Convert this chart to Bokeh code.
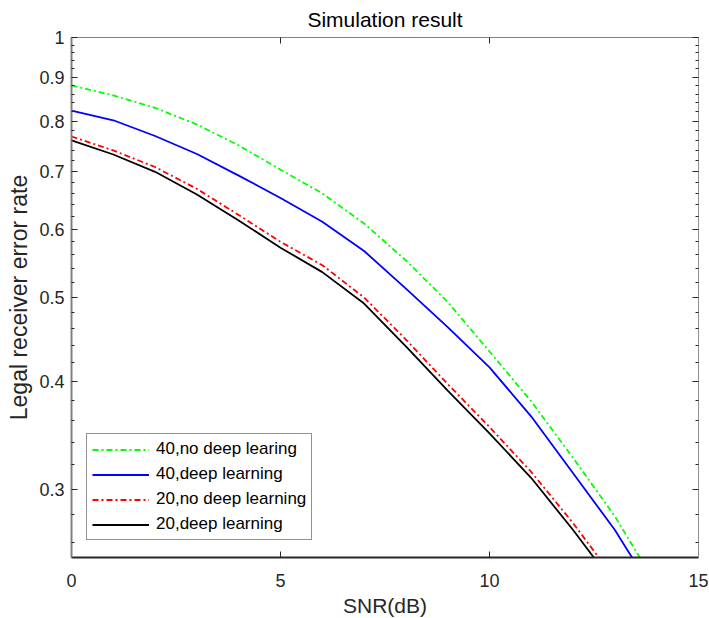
from bokeh.plotting import figure
from bokeh.models import (FixedTicker, LinearAxis, LogAxis, Legend, LegendItem,
                          Range1d, CustomLabelingPolicy)
from bokeh.embed import file_html
from bokeh.resources import INLINE

# ---- data ----
snr = [0, 1, 2, 3, 4, 5, 6, 7, 8, 9, 10, 11, 12, 13, 14, 15]
green_no_dl_40 = [0.880, 0.857, 0.829, 0.793, 0.750, 0.703, 0.660, 0.609, 0.552,
                  0.494, 0.433, 0.379, 0.326, 0.279, 0.232, 0.195]
blue_dl_40 = [0.823, 0.802, 0.769, 0.733, 0.692, 0.652, 0.612, 0.566, 0.512,
              0.462, 0.415, 0.364, 0.313, 0.269, 0.225, 0.190]
red_no_dl_20 = [0.768, 0.740, 0.708, 0.668, 0.623, 0.580, 0.545, 0.500, 0.447,
                0.397, 0.354, 0.314, 0.274, 0.236, 0.205, 0.180]
black_dl_20 = [0.760, 0.732, 0.699, 0.658, 0.614, 0.571, 0.535, 0.492, 0.439,
               0.390, 0.348, 0.309, 0.269, 0.232, 0.200, 0.175]
labels = ["40,no deep learing", "40,deep learning",
          "20,no deep learning", "20,deep learning"]

x_ticks = [0, 5, 10, 15]
y_ticks = [0.3, 0.4, 0.5, 0.6, 0.7, 0.8, 0.9, 1.0]
y_tick_labels = ["0.3", "0.4", "0.5", "0.6", "0.7", "0.8", "0.9", "1"]
y_minor = [0.26, 0.28, 0.32, 0.34, 0.36, 0.38, 0.42, 0.44, 0.46, 0.48,
           0.52, 0.54, 0.56, 0.58, 0.62, 0.64, 0.66, 0.68, 0.72, 0.74,
           0.76, 0.78, 0.82, 0.84, 0.86, 0.88, 0.92, 0.94, 0.96, 0.98]

FONT = "Liberation Sans"
TXT = "#262626"

p = figure(frame_width=627, frame_height=520, y_axis_type="log",
           x_range=Range1d(0, 15), y_range=Range1d(0.25, 1.0),
           output_backend="svg", toolbar_location=None,
           min_border_left=71, min_border_right=11, min_border_top=37,
           min_border_bottom=61, background_fill_color="white",
           border_fill_color="white", outline_line_color=None)
p.grid.visible = False

p.title.text = "Simulation result"
p.title.align = "center"
p.title.text_font = FONT
p.title.text_font_size = "21px"
p.title.text_font_style = "normal"
p.title.text_color = "#000000"
p.title.standoff = 5

xt = FixedTicker(ticks=x_ticks, minor_ticks=[])
yt = FixedTicker(ticks=y_ticks, minor_ticks=y_minor)
ylab = {t: s for t, s in zip(y_ticks, y_tick_labels)}

no_labels = CustomLabelingPolicy(code="""
    for (const i of Array.from(indices)) { indices.unset(i) }
    return indices
""")


def style(ax, line_color, line_width, font_size):
    ax.major_tick_in = 6
    ax.major_tick_out = 0
    ax.minor_tick_in = 3
    ax.minor_tick_out = 0
    ax.major_tick_line_color = TXT
    ax.minor_tick_line_color = TXT
    ax.axis_line_color = line_color
    ax.axis_line_width = line_width
    ax.major_label_text_font = FONT
    ax.major_label_text_color = TXT
    ax.major_label_text_font_size = font_size
    ax.axis_label_text_font = FONT
    ax.axis_label_text_color = TXT
    ax.axis_label_text_font_style = "normal"


xa = p.xaxis[0]
xa.ticker = xt
style(xa, "#262626", 2, "18px")
xa.axis_label = "SNR(dB)"
xa.axis_label_text_font_size = "21px"
xa.major_label_standoff = 16
xa.axis_label_standoff = 4

ya = p.yaxis[0]
ya.ticker = yt
ya.major_label_overrides = ylab
style(ya, "#808080", 2, "18px")
ya.axis_label = "Legal receiver error rate"
ya.axis_label_text_font_size = "23px"
ya.major_label_standoff = 7
ya.axis_label_standoff = 4

top = LinearAxis(ticker=xt)
style(top, "#808080", 1, "1px")
top.major_label_policy = no_labels
top.major_label_standoff = 0
p.add_layout(top, "above")

right = LogAxis(ticker=yt)
style(right, "#909090", 1, "1px")
right.major_label_policy = no_labels
right.major_label_standoff = 0
p.add_layout(right, "right")

series = [
    (green_no_dl_40, "#00ff00", "6 3 2 3"),
    (blue_dl_40, "#0000ff", "solid"),
    (red_no_dl_20, "#ff0000", "6 3 2 3"),
    (black_dl_20, "#000000", "solid"),
]
items = []
for (ys, col, dash), lab in zip(series, labels):
    r = p.line(snr, ys, line_color=col, line_width=1.8, line_dash=dash)
    items.append(LegendItem(label=lab, renderers=[r]))

leg = Legend(items=items, location=(15, 17), margin=0,
             border_line_color=TXT, border_line_width=1,
             background_fill_color="white", background_fill_alpha=1,
             label_text_font=FONT, label_text_font_size="17px",
             label_text_color="#000000", glyph_width=57, glyph_height=19,
             label_height=19, spacing=5, padding=5, label_standoff=7)
p.add_layout(leg, "center")

open("out.html", "w").write(file_html(p, INLINE))
